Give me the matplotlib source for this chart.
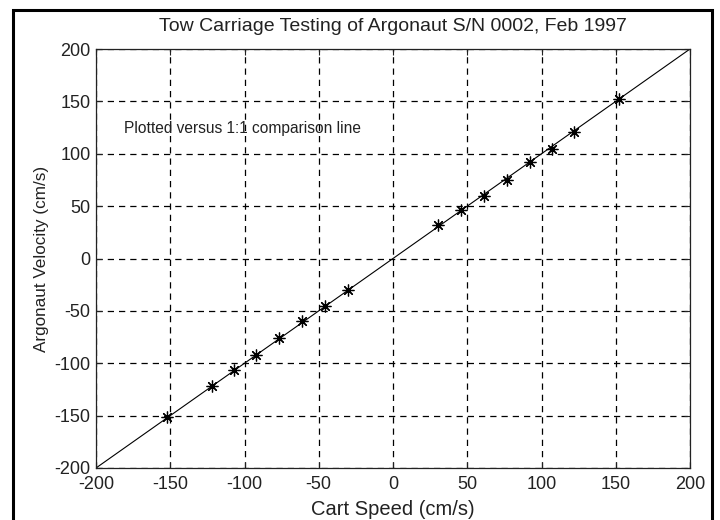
import matplotlib
matplotlib.use('Agg')
import matplotlib.pyplot as plt
from matplotlib.patches import Rectangle

# data
cart_speed = [-152, -122, -107, -92, -76.5, -61, -46, -30.5,
              30.5, 46, 61, 76.5, 92, 107, 122, 152]
argonaut_vel = [-151, -122, -106, -92, -75.5, -60, -45, -30,
                32, 46, 60, 75, 92, 105, 121, 152]
line_x = [-200, 200]
line_y = [-200, 200]
ticks = [-200, -150, -100, -50, 0, 50, 100, 150, 200]

plt.rcParams['font.family'] = ['Liberation Sans', 'DejaVu Sans']
plt.rcParams['axes.unicode_minus'] = False
plt.rcParams['font.size'] = 13

ink = '#222222'

fig = plt.figure(figsize=(7.2, 5.2), dpi=100)
ax = fig.add_axes([96 / 720, 1 - 468 / 520, (690 - 96) / 720, (468 - 49) / 520])

ax.plot(line_x, line_y, color='black', linewidth=0.8)
ax.plot(cart_speed, argonaut_vel, linestyle='none', marker=(8, 2, 0),
        markersize=8.5, markeredgewidth=0.9, color='black')

ax.set_xlim(-200, 200)
ax.set_ylim(-200, 200)
ax.set_xticks(ticks)
ax.set_yticks(ticks)
ax.grid(True, color='black', linestyle=(0, (5, 4)), linewidth=0.9)
ax.tick_params(direction='in', top=True, right=True, length=4, colors=ink,
               labelcolor=ink, labelsize=13, pad=4)
ax.tick_params(axis='x', pad=6)
for s in ax.spines.values():
    s.set_linewidth(0.9)
    s.set_color(ink)

ax.set_title('Tow Carriage Testing of Argonaut S/N 0002, Feb 1997', fontsize=14,
             pad=13, color=ink)
ax.set_xlabel('Cart Speed (cm/s)', fontsize=14.5, labelpad=5, color=ink)
ax.set_ylabel('Argonaut Velocity (cm/s)', fontsize=12.3, labelpad=4, color=ink)
ax.text(-181, 124.5, 'Plotted versus 1:1 comparison line', va='center',
        ha='left', color=ink, fontsize=11.2)

# outer frame around the whole figure
fig.patches.append(Rectangle((13 / 720, -0.05), (712 - 13) / 720, 1.05 - 10 / 520,
                             transform=fig.transFigure, fill=False,
                             edgecolor='black', linewidth=2.2))

fig.savefig('out.png', dpi=100)
